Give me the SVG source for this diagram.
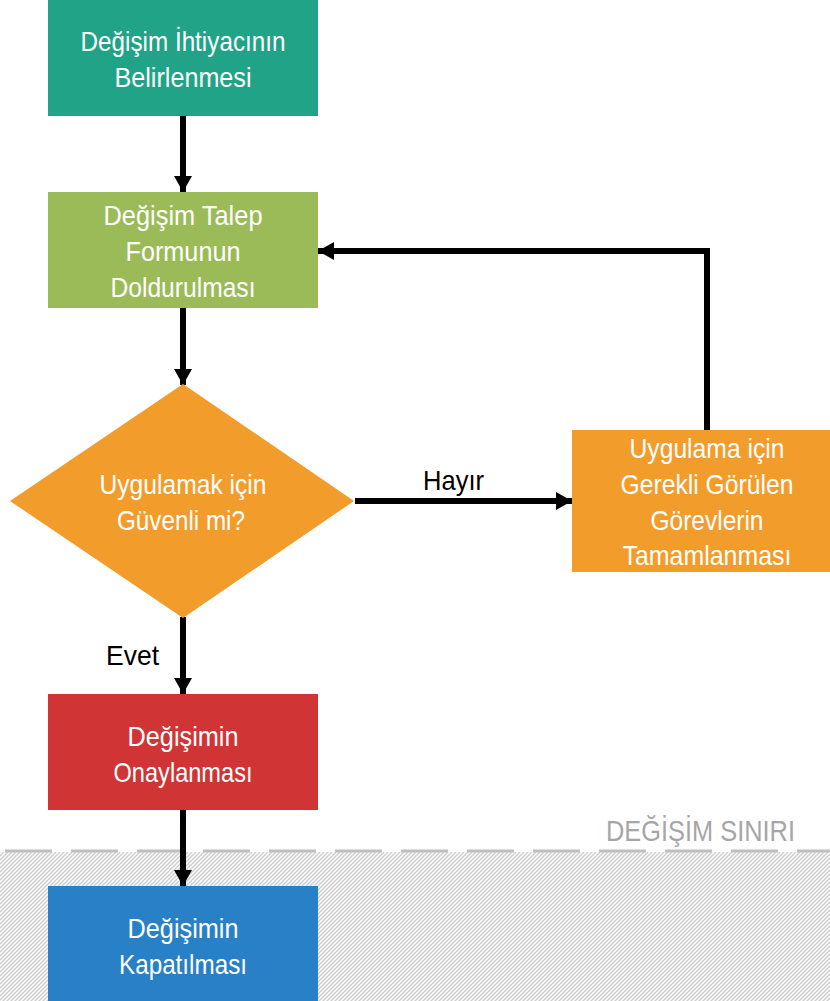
<svg xmlns="http://www.w3.org/2000/svg" width="830" height="1001" viewBox="0 0 830 1001">
<style>
.t{font-family:"Liberation Sans",Arial,sans-serif;font-size:28px;fill:#fff;text-anchor:middle}
.lbl{font-family:"Liberation Sans",Arial,sans-serif;font-size:28px;fill:#000}
.c{stroke:#000;stroke-width:6;fill:none}
</style>
<defs>
<pattern id="hatch" patternUnits="userSpaceOnUse" width="4" height="4">
<rect width="4" height="4" fill="#fff"/>
<path d="M-1,1 l2,-2 M0,4 l4,-4 M3,5 l2,-2" stroke="#cdcdcd" stroke-width="1.4"/>
</pattern>
<marker id="ah" markerUnits="userSpaceOnUse" markerWidth="18" markerHeight="18" viewBox="0 0 16 18" refX="16" refY="9" orient="auto">
<path d="M0,0 L16,9 L0,18 Z" fill="#000"/>
</marker>
</defs>
<rect width="830" height="1001" fill="#fff"/>
<g id="boundary">
<rect x="0" y="852" width="830" height="149" fill="url(#hatch)"/>
<line x1="5" y1="851" x2="830" y2="851" stroke="#bfbfbf" stroke-width="3" stroke-dasharray="47 19"/>
<text x="795" y="841" font-family="Liberation Sans, Arial, sans-serif" font-size="30" fill="#a6a6a6" text-anchor="end" textLength="189" lengthAdjust="spacingAndGlyphs">DEĞİŞİM SINIRI</text>
</g>
<g id="connectors">
<line class="c" x1="183" y1="116" x2="183" y2="192" marker-end="url(#ah)"/>
<line class="c" x1="183" y1="308" x2="183" y2="385" marker-end="url(#ah)"/>
<line class="c" x1="183" y1="617" x2="183" y2="694" marker-end="url(#ah)"/>
<line class="c" x1="183" y1="810" x2="183" y2="886" marker-end="url(#ah)"/>
<line class="c" x1="355" y1="501" x2="572" y2="501" marker-end="url(#ah)"/>
<polyline class="c" points="707,430 707,251 318,251" marker-end="url(#ah)"/>
<text class="lbl" x="423" y="490" textLength="61" lengthAdjust="spacingAndGlyphs">Hayır</text>
<text class="lbl" x="106" y="665" textLength="53" lengthAdjust="spacingAndGlyphs">Evet</text>
</g>
<g id="n1">
<rect x="48" y="0" width="270" height="116" fill="#20a386"/>
<text class="t" x="183" y="51" textLength="205" lengthAdjust="spacingAndGlyphs">Değişim İhtiyacının</text>
<text class="t" x="183" y="87" textLength="137" lengthAdjust="spacingAndGlyphs">Belirlenmesi</text>
</g>
<g id="n2">
<rect x="48" y="192" width="270" height="116" fill="#9bbb59"/>
<text class="t" x="183" y="225" textLength="159" lengthAdjust="spacingAndGlyphs">Değişim Talep</text>
<text class="t" x="183" y="261" textLength="115" lengthAdjust="spacingAndGlyphs">Formunun</text>
<text class="t" x="183" y="297" textLength="145" lengthAdjust="spacingAndGlyphs">Doldurulması</text>
</g>
<g id="n3">
<polygon points="183,384 354,501 183,618 10,501" fill="#f29c2b"/>
<text class="t" x="183" y="494" textLength="167" lengthAdjust="spacingAndGlyphs">Uygulamak için</text>
<text class="t" x="181" y="530" textLength="128" lengthAdjust="spacingAndGlyphs">Güvenli mi?</text>
</g>
<g id="n4">
<rect x="572" y="430" width="270" height="142" fill="#f29c2b"/>
<text class="t" x="707" y="458" textLength="155" lengthAdjust="spacingAndGlyphs">Uygulama için</text>
<text class="t" x="707" y="494" textLength="173" lengthAdjust="spacingAndGlyphs">Gerekli Görülen</text>
<text class="t" x="707" y="530" textLength="113" lengthAdjust="spacingAndGlyphs">Görevlerin</text>
<text class="t" x="707" y="565" textLength="169" lengthAdjust="spacingAndGlyphs">Tamamlanması</text>
</g>
<g id="n5">
<rect x="48" y="694" width="270" height="116" fill="#d03434"/>
<text class="t" x="183" y="746" textLength="111" lengthAdjust="spacingAndGlyphs">Değişimin</text>
<text class="t" x="183" y="782" textLength="139" lengthAdjust="spacingAndGlyphs">Onaylanması</text>
</g>
<g id="n6">
<rect x="48" y="886" width="270" height="115" fill="#2880c6"/>
<text class="t" x="183" y="938" textLength="111" lengthAdjust="spacingAndGlyphs">Değişimin</text>
<text class="t" x="183" y="974" textLength="128" lengthAdjust="spacingAndGlyphs">Kapatılması</text>
</g>
</svg>
